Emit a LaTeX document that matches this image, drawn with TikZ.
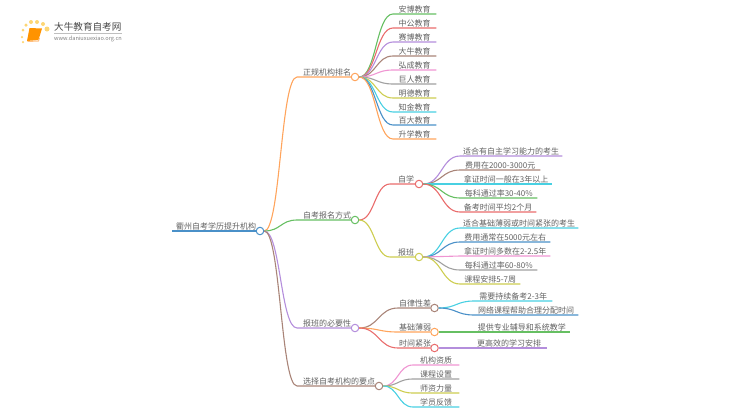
\documentclass[tikz,border=0pt]{standalone}
\usepackage{fontspec}
\setmainfont{Noto Sans CJK SC}
\usetikzlibrary{calc}
\definecolor{cblue}{HTML}{4A90C8}
\definecolor{corange}{HTML}{FFA45C}
\definecolor{cgreen}{HTML}{66BF62}
\definecolor{cred}{HTML}{E96C6C}
\definecolor{cpurple}{HTML}{B48EDC}
\definecolor{cbrown}{HTML}{A98478}
\definecolor{cpink}{HTML}{EF95D2}
\definecolor{cgray}{HTML}{A0A0A0}
\definecolor{colive}{HTML}{CDCD50}
\definecolor{ccyan}{HTML}{48D0E2}
\definecolor{cgold}{HTML}{FDD675}
\tikzset{
    mind map/.style={
            x=1pt,y=-1pt,
            label/.style={anchor=south west,inner xsep=0pt,inner ysep=1pt,text=black!62,
                    font=\fontsize{8}{9}\selectfont},
            joint/.style={circle,draw=##1,fill=white,line width=1pt,minimum size=7.5pt,inner sep=0pt},
            link/.style={line width=1.1pt,to path={
                            let \p1=(\tikztostart),\p2=(\tikztotarget),\n1={0.5*(\x1+\x2)} in
                            .. controls (\n1,\y1) and (\n1,\y2) .. (\tikztotarget)}},
            spark/.style={circle,fill=cgold,inner sep=0pt}
        }
    }
\begin{document}
\begin{tikzpicture}[mind map]
    \useasboundingbox (0,0) rectangle (750,410);
    % logo
    \node [spark, minimum size=2.5pt] (s1) at (23,42) {};
    \node [spark, minimum size=2.5pt] (s2) at (22,37) {};
    \node [spark, minimum size=3pt] (s3) at (23,30) {};
    \node [spark, minimum size=3.5pt] (s4) at (26,25) {};
    \node [spark, minimum size=4pt] (s5) at (31,22) {};
    \node [spark, minimum size=4pt] (s6) at (37,22) {};
    \node [spark, minimum size=4pt] (s7) at (43,24) {};
    \node [spark, minimum size=5pt] (s8) at (47,29) {};
    \fill [orange!85!yellow] (29.500,28) -- (42,28.500) -- (38.500,40) -- (27,41) -- cycle;
    \draw [orange!50!white, line width=1pt] (27.500,41.500) -- (38.500,41) -- (39.500,38);
    \node [anchor=west, inner sep=0pt, text=black!72, font=\fontsize{9.6}{11}\selectfont] (brand) at (54,27) {大牛教育自考网};
    \node [anchor=west, inner sep=0pt, text=black!50, font=\fontsize{5.6}{7}\selectfont] (site) at (54,38.500) {www.daniuxuexiao.org.cn};
    \draw [black!25, line width=.5pt] (54,33) -- (122,33);
    % root
    \node [label, minimum width=88pt] (quzhou) at (172,231) {衢州自考学历提升机构};
    \node [joint=cblue] (quzhoudot) at (260,231) {};
    \draw [cblue, line width=1.1pt] (quzhou.south west) -- (quzhoudot.west);
    % first branch
    \node [label, minimum width=60pt] (paiming) at (297,77) {正规机构排名};
    \node [joint=corange] (paimingdot) at (355,77) {};
    \draw [link, corange] (quzhoudot.east) to (paiming.south west) -- (paimingdot.west);
    \node [label, minimum width=43pt] (anbo) at (393,14) {安博教育};
    \node [label, minimum width=43pt] (zhonggong) at (393,28) {中公教育};
    \node [label, minimum width=43pt] (saibo) at (393,42) {赛博教育};
    \node [label, minimum width=43pt] (daniu) at (393,56) {大牛教育};
    \node [label, minimum width=43pt] (hongcheng) at (393,70) {弘成教育};
    \node [label, minimum width=43pt] (juren) at (393,84) {巨人教育};
    \node [label, minimum width=43pt] (mingde) at (393,98) {明德教育};
    \node [label, minimum width=43pt] (zhijin) at (393,112) {知金教育};
    \node [label, minimum width=43pt] (baida) at (393,125) {百大教育};
    \node [label, minimum width=43pt] (shengxue) at (393,139) {升学教育};
    \draw [link, cgreen] (paimingdot.east) to (anbo.south west) -- (anbo.south east);
    \draw [link, cred] (paimingdot.east) to (zhonggong.south west) -- (zhonggong.south east);
    \draw [link, cpurple] (paimingdot.east) to (saibo.south west) -- (saibo.south east);
    \draw [link, cbrown] (paimingdot.east) to (daniu.south west) -- (daniu.south east);
    \draw [link, cpink] (paimingdot.east) to (hongcheng.south west) -- (hongcheng.south east);
    \draw [link, cgray] (paimingdot.east) to (juren.south west) -- (juren.south east);
    \draw [link, colive] (paimingdot.east) to (mingde.south west) -- (mingde.south east);
    \draw [link, ccyan] (paimingdot.east) to (zhijin.south west) -- (zhijin.south east);
    \draw [link, cblue] (paimingdot.east) to (baida.south west) -- (baida.south east);
    \draw [link, corange] (paimingdot.east) to (shengxue.south west) -- (shengxue.south east);
    % second branch
    \node [label, minimum width=60pt] (fangshi) at (297,220) {自考报名方式};
    \node [joint=cgreen] (fangshidot) at (355,220) {};
    \draw [link, cgreen] (quzhoudot.east) to (fangshi.south west) -- (fangshidot.west);
    \node [label, minimum width=32pt] (zixue) at (390,184) {自学};
    \node [joint=cred] (zixuedot) at (419,184) {};
    \draw [link, cred] (fangshidot.east) to (zixue.south west) -- (zixuedot.west);
    \node [label, minimum width=32pt] (baoban) at (390,257) {报班};
    \node [joint=colive] (baobandot) at (419,257) {};
    \draw [link, colive] (fangshidot.east) to (baoban.south west) -- (baobandot.west);
    \node [label, minimum width=102pt] (zxa) at (460,156) {适合有自主学习能力的考生};
    \node [label, minimum width=80pt] (zxb) at (460,170) {费用在2000-3000元};
    \node [label, minimum width=92pt] (zxc) at (460,184) {拿证时间一般在3年以上};
    \node [label, minimum width=77pt] (zxd) at (460,198) {每科通过率30-40\%};
    \node [label, minimum width=76pt] (zxe) at (460,212) {备考时间平均2个月};
    \draw [link, cpurple] (zixuedot.east) to (zxa.south west) -- (zxa.south east);
    \draw [link, cbrown] (zixuedot.east) to (zxb.south west) -- (zxb.south east);
    \draw [link, ccyan] (zixuedot.east) to (zxc.south west) -- (zxc.south east);
    \draw [link, cgreen] (zixuedot.east) to (zxd.south west) -- (zxd.south east);
    \draw [link, cred] (zixuedot.east) to (zxe.south west) -- (zxe.south east);
    \node [label, minimum width=118pt] (bba) at (460,228) {适合基础薄弱或时间紧张的考生};
    \node [label, minimum width=90pt] (bbb) at (460,242) {费用通常在5000元左右};
    \node [label, minimum width=90pt] (bbc) at (460,256) {拿证时间多数在2-2.5年};
    \node [label, minimum width=77pt] (bbd) at (460,270) {每科通过率60-80\%};
    \node [label, minimum width=60pt] (bbe) at (460,284) {课程安排5-7周};
    \draw [link, ccyan] (baobandot.east) to (bba.south west) -- (bba.south east);
    \draw [link, cblue] (baobandot.east) to (bbb.south west) -- (bbb.south east);
    \draw [link, cpink] (baobandot.east) to (bbc.south west) -- (bbc.south east);
    \draw [link, cgray] (baobandot.east) to (bbd.south west) -- (bbd.south east);
    \draw [link, colive] (baobandot.east) to (bbe.south west) -- (bbe.south east);
    % third branch
    \node [label, minimum width=60pt] (biyao) at (297,328) {报班的必要性};
    \node [joint=cpurple] (biyaodot) at (355,328) {};
    \draw [link, cpurple] (quzhoudot.east) to (biyao.south west) -- (biyaodot.west);
    \node [label, minimum width=34pt] (zilv) at (398,308) {自律性差};
    \node [joint=cbrown] (zilvdot) at (434.500,308) {};
    \draw [link, cbrown] (biyaodot.east) to (zilv.south west) -- (zilvdot.west);
    \node [label, minimum width=34pt] (jichu) at (398,332) {基础薄弱};
    \node [joint=corange] (jichudot) at (434.500,332) {};
    \draw [link, corange] (biyaodot.east) to (jichu.south west) -- (jichudot.west);
    \node [label, minimum width=34pt] (shijian) at (398,348) {时间紧张};
    \node [joint=cred] (shijiandot) at (434.500,348) {};
    \draw [link, cred] (biyaodot.east) to (shijian.south west) -- (shijiandot.west);
    \node [label, minimum width=78pt] (zla) at (474,301) {需要持续备考2-3年};
    \node [label, minimum width=104pt] (zlb) at (474,315) {网络课程帮助合理分配时间};
    \draw [link, ccyan] (zilvdot.east) to (zla.south west) -- (zla.south east);
    \draw [link, cblue] (zilvdot.east) to (zlb.south west) -- (zlb.south east);
    \node [label, minimum width=96.500pt] (jca) at (473.500,332) {提供专业辅导和系统教学};
    \draw [cgreen, line width=1.1pt] (jichudot.east) -- (jca.south east);
    \node [label, minimum width=76pt] (sja) at (471,348) {更高效的学习安排};
    \draw [cpurple, line width=1.1pt] (shijiandot.east) -- (sja.south east);
    % fourth branch
    \node [label, minimum width=84pt] (yaodian) at (297,386) {选择自考机构的要点};
    \node [joint=cbrown] (yaodiandot) at (379,386) {};
    \draw [link, cbrown] (quzhoudot.east) to (yaodian.south west) -- (yaodiandot.west);
    \node [label, minimum width=46pt] (ydb) at (413,365) {机构资质};
    \node [label, minimum width=46pt] (ydc) at (413,379) {课程设置};
    \node [label, minimum width=46pt] (ydd) at (413,393) {师资力量};
    \node [label, minimum width=46pt] (yde) at (413,407) {学员反馈};
    \draw [link, cpink] (yaodiandot.east) to (ydb.south west) -- (ydb.south east);
    \draw [link, cgray] (yaodiandot.east) to (ydc.south west) -- (ydc.south east);
    \draw [link, colive] (yaodiandot.east) to (ydd.south west) -- (ydd.south east);
    \draw [link, ccyan] (yaodiandot.east) to (yde.south west) -- (yde.south east);
\end{tikzpicture}
\end{document}
